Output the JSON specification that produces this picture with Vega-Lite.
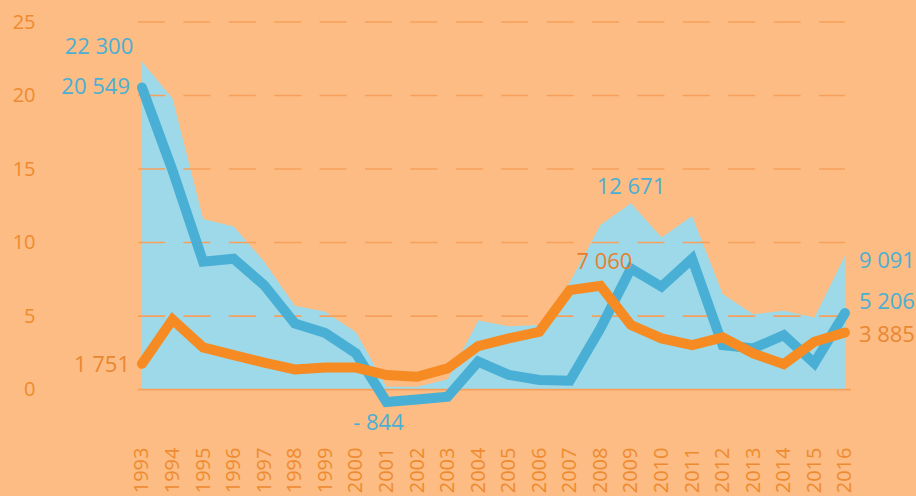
{
  "$schema": "https://vega.github.io/schema/vega-lite/v6.json",
  "width": 713,
  "height": 422,
  "autosize": {"type": "none"},
  "padding": {"left": 138, "top": 22, "right": 65, "bottom": 52},
  "background": "#FCBC83",
  "config": {
    "view": {"stroke": null},
    "font": "Open Sans",
    "axis": {"ticks": false, "domain": false, "grid": false, "labelFont": "Open Sans", "labelColor": "#EE8B30", "title": null, "labelOverlap": false},
    "axisX": {"labelAngle": -90, "labelFontSize": 20, "labelPadding": 3, "labelOverlap": false, "labelBound": false, "labelFlush": false, "format": "d", "labelSeparation": 0},
    "axisY": {"labelFontSize": 20, "labelPadding": 103, "labelOverlap": false}
  },
  "datasets": {
    "main": [
      {"year": 1993, "total": 22.3, "net": 20.549, "orng": 1.751},
      {"year": 1994, "total": 19.8, "net": 14.9, "orng": 4.77},
      {"year": 1995, "total": 11.6, "net": 8.7, "orng": 2.87},
      {"year": 1996, "total": 11.1, "net": 8.9, "orng": 2.35},
      {"year": 1997, "total": 8.7, "net": 7.1, "orng": 1.83},
      {"year": 1998, "total": 5.7, "net": 4.5, "orng": 1.37},
      {"year": 1999, "total": 5.3, "net": 3.85, "orng": 1.5},
      {"year": 2000, "total": 3.9, "net": 2.46, "orng": 1.5},
      {"year": 2001, "total": 0.2, "net": -0.844, "orng": 0.99},
      {"year": 2002, "total": 0.2, "net": -0.67, "orng": 0.87},
      {"year": 2003, "total": 0.7, "net": -0.49, "orng": 1.44},
      {"year": 2004, "total": 4.7, "net": 1.9, "orng": 2.96},
      {"year": 2005, "total": 4.3, "net": 1.0, "orng": 3.48},
      {"year": 2006, "total": 4.4, "net": 0.65, "orng": 3.93},
      {"year": 2007, "total": 7.3, "net": 0.6, "orng": 6.77},
      {"year": 2008, "total": 11.2, "net": 4.16, "orng": 7.06},
      {"year": 2009, "total": 12.671, "net": 8.24, "orng": 4.39},
      {"year": 2010, "total": 10.35, "net": 7.0, "orng": 3.48},
      {"year": 2011, "total": 11.8, "net": 8.9, "orng": 3.03},
      {"year": 2012, "total": 6.5, "net": 3.03, "orng": 3.55},
      {"year": 2013, "total": 5.13, "net": 2.8, "orng": 2.46},
      {"year": 2014, "total": 5.36, "net": 3.7, "orng": 1.73},
      {"year": 2015, "total": 4.9, "net": 1.8, "orng": 3.25},
      {"year": 2016, "total": 9.091, "net": 5.206, "orng": 3.885}
    ]
  },
  "layer": [
    {
      "data": {"name": "main"},
      "mark": {"type": "area", "color": "#9DD9E9", "interpolate": "linear"},
      "encoding": {
        "x": {
          "field": "year", "type": "quantitative", "title": null,
          "scale": {"domain": [1992.87, 2016.2], "nice": false, "zero": false},
          "axis": {"values": [1993,1994,1995,1996,1997,1998,1999,2000,2001,2002,2003,2004,2005,2006,2007,2008,2009,2010,2011,2012,2013,2014,2015,2016], "labelOverlap": false, "labelAngle": -90, "labelFontSize": 20}
        },
        "y": {
          "field": "total", "type": "quantitative", "title": null,
          "scale": {"domain": [-3.7, 25], "nice": false, "zero": false},
          "axis": {"values": [0, 5, 10, 15, 20, 25], "labelOverlap": false}
        }
      }
    },
    {
      "data": {"values": [{"g": 5}, {"g": 10}, {"g": 15}, {"g": 20}, {"g": 25}]},
      "mark": {"type": "rule", "color": "#F6A05C", "strokeWidth": 1.6, "strokeDash": [27, 18.4]},
      "encoding": {
        "y": {"field": "g", "type": "quantitative", "title": null, "axis": {"values": [0, 5, 10, 15, 20, 25], "labelOverlap": false}},
        "x": {"datum": 1992.87, "type": "quantitative", "title": null, "axis": {"values": [1993,1994,1995,1996,1997,1998,1999,2000,2001,2002,2003,2004,2005,2006,2007,2008,2009,2010,2011,2012,2013,2014,2015,2016], "labelOverlap": false, "labelAngle": -90, "labelFontSize": 20}},
        "x2": {"datum": 2016}
      }
    },
    {
      "data": {"values": [{"g": 0}]},
      "mark": {"type": "rule", "color": "#F6A05C", "strokeWidth": 1.8},
      "encoding": {
        "y": {"field": "g", "type": "quantitative", "title": null, "axis": {"values": [0, 5, 10, 15, 20, 25], "labelOverlap": false}}
      }
    },
    {
      "data": {"name": "main"},
      "mark": {"type": "line", "color": "#4AAFD5", "strokeWidth": 10, "strokeCap": "round", "strokeJoin": "miter"},
      "encoding": {
        "x": {"field": "year", "type": "quantitative", "title": null, "axis": {"values": [1993,1994,1995,1996,1997,1998,1999,2000,2001,2002,2003,2004,2005,2006,2007,2008,2009,2010,2011,2012,2013,2014,2015,2016], "labelOverlap": false, "labelAngle": -90, "labelFontSize": 20}},
        "y": {"field": "net", "type": "quantitative", "title": null, "axis": {"values": [0, 5, 10, 15, 20, 25], "labelOverlap": false}}
      }
    },
    {
      "data": {"name": "main"},
      "mark": {"type": "line", "color": "#F58B22", "strokeWidth": 10, "strokeCap": "round", "strokeJoin": "miter"},
      "encoding": {
        "x": {"field": "year", "type": "quantitative", "title": null, "axis": {"values": [1993,1994,1995,1996,1997,1998,1999,2000,2001,2002,2003,2004,2005,2006,2007,2008,2009,2010,2011,2012,2013,2014,2015,2016], "labelOverlap": false, "labelAngle": -90, "labelFontSize": 20}},
        "y": {"field": "orng", "type": "quantitative", "title": null, "axis": {"values": [0, 5, 10, 15, 20, 25], "labelOverlap": false}}
      }
    },
    {
      "data": {"values": [
        {"year": 1993, "value": 22.3, "label": "22 300", "pos": "a"},
        {"year": 1993, "value": 20.549, "label": "20 549", "pos": "b"},
        {"year": 2001, "value": -0.844, "label": "- 844", "pos": "c"},
        {"year": 2009, "value": 12.671, "label": "12 671", "pos": "d"},
        {"year": 2016, "value": 9.091, "label": "9 091", "pos": "e"},
        {"year": 2016, "value": 5.206, "label": "5 206", "pos": "f"},
        {"year": 1993, "value": 1.751, "label": "1 751", "pos": "g"},
        {"year": 2008, "value": 7.06, "label": "7 060", "pos": "h"},
        {"year": 2016, "value": 3.885, "label": "3 885", "pos": "i"}
      ]},
      "layer": [
        {"transform": [{"filter": "datum.pos === 'a'"}], "mark": {"type": "text", "color": "#4AAFD5", "fontSize": 22, "font": "Open Sans", "align": "center", "baseline": "middle", "dx": -43, "dy": -15}},
        {"transform": [{"filter": "datum.pos === 'b'"}], "mark": {"type": "text", "color": "#4AAFD5", "fontSize": 22, "font": "Open Sans", "align": "right", "baseline": "middle", "dx": -12, "dy": 0}},
        {"transform": [{"filter": "datum.pos === 'c'"}], "mark": {"type": "text", "color": "#4AAFD5", "fontSize": 22, "font": "Open Sans", "align": "center", "baseline": "middle", "dx": -8, "dy": 21}},
        {"transform": [{"filter": "datum.pos === 'd'"}], "mark": {"type": "text", "color": "#4AAFD5", "fontSize": 22, "font": "Open Sans", "align": "center", "baseline": "middle", "dx": 0, "dy": -16}},
        {"transform": [{"filter": "datum.pos === 'e'"}], "mark": {"type": "text", "color": "#4AAFD5", "fontSize": 22, "font": "Open Sans", "align": "left", "baseline": "middle", "dx": 14, "dy": 5}},
        {"transform": [{"filter": "datum.pos === 'f'"}], "mark": {"type": "text", "color": "#4AAFD5", "fontSize": 22, "font": "Open Sans", "align": "left", "baseline": "middle", "dx": 14, "dy": -11}},
        {"transform": [{"filter": "datum.pos === 'g'"}], "mark": {"type": "text", "color": "#EA8732", "fontSize": 22, "font": "Open Sans", "align": "right", "baseline": "middle", "dx": -12, "dy": 1}},
        {"transform": [{"filter": "datum.pos === 'h'"}], "mark": {"type": "text", "color": "#E5802E", "fontSize": 22, "font": "Open Sans", "align": "center", "baseline": "middle", "dx": 4, "dy": -24}},
        {"transform": [{"filter": "datum.pos === 'i'"}], "mark": {"type": "text", "color": "#EA8732", "fontSize": 22, "font": "Open Sans", "align": "left", "baseline": "middle", "dx": 14, "dy": 3}}
      ],
      "encoding": {
        "x": {"field": "year", "type": "quantitative", "title": null, "axis": {"values": [1993,1994,1995,1996,1997,1998,1999,2000,2001,2002,2003,2004,2005,2006,2007,2008,2009,2010,2011,2012,2013,2014,2015,2016], "labelOverlap": false, "labelAngle": -90, "labelFontSize": 20}},
        "y": {"field": "value", "type": "quantitative", "title": null, "axis": {"values": [0, 5, 10, 15, 20, 25], "labelOverlap": false}},
        "text": {"field": "label"}
      }
    }
  ]
}
